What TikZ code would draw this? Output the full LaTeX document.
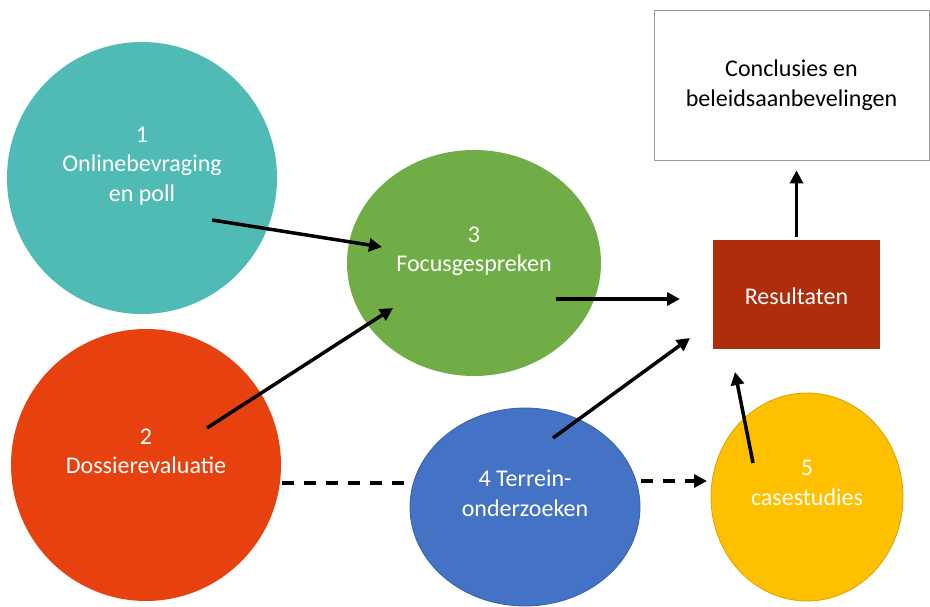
\documentclass[tikz,border=0pt]{standalone}
\usepackage{fontspec}
\setmainfont{Carlito}
\usepackage{xcolor}
\usetikzlibrary{arrows.meta}
\usetikzlibrary{shapes.geometric}
\definecolor{qteal}{RGB}{80,187,180}
\definecolor{qorange}{RGB}{232,65,16}
\definecolor{qgreen}{RGB}{112,173,71}
\definecolor{qblue}{RGB}{68,114,196}
\definecolor{qyellow}{RGB}{255,192,0}
\definecolor{qrust}{RGB}{174,46,12}

\begin{document}
\begin{tikzpicture}[x=1pt,y=-1pt,
  bubble/.style={ellipse, inner sep=0pt, text=white, align=center, text depth=28pt, font=\fontsize{24}{29.5}\selectfont},
  flow/.style={-{Triangle[length=13pt,width=13pt]}, line width=3.5pt},
  dflow/.style={line width=3.5pt, dash pattern=on 12pt off 10pt}]

\useasboundingbox (0,0) rectangle (930,607);

%bubbles:
\node[bubble, fill=qteal, minimum width=270pt, minimum height=272pt] (onl) at (142,178) {1\\Onlinebevraging\\en poll};
\node[bubble, fill=qorange, minimum width=270pt, minimum height=272pt] (dos) at (146,465) {2\\Dossierevaluatie};
\node[bubble, fill=qgreen, minimum width=254pt, minimum height=226pt] (foc) at (474,263) {3\\Focusgespreken};
\node[bubble, fill=qblue, draw=qblue!85!black, line width=0.8pt, minimum width=230pt, minimum height=198pt] (ter) at (525,507) {4 Terrein-\\onderzoeken};
\node[bubble, fill=qyellow, draw=qyellow!85!black, line width=0.8pt, minimum width=192pt, minimum height=208pt] (cas) at (807,497) {5\\casestudies};

%boxes:
\node[fill=qrust, text=white, minimum width=167pt, minimum height=109pt, text height=20pt, font=\fontsize{24}{29.5}\selectfont] (res) at (796.5,294.5) {Resultaten};
\node[draw=black!40, line width=0.8pt, align=center, minimum width=275pt, minimum height=150pt, font=\fontsize{24}{29.5}\selectfont] (concl) at (791.5,85) {Conclusies en\\beleidsaanbevelingen};

%arrow ends
\coordinate (a13s) at (212,220);
\coordinate (a13e) at (382,247);
\coordinate (a23s) at (207,428);
\coordinate (a23e) at (393,308);
\coordinate (a3rs) at (556,299);
\coordinate (a3re) at (680,299);
\coordinate (a4rs) at (553,438);
\coordinate (a4re) at (690,338);
\coordinate (a5rs) at (753,463);
\coordinate (a5re) at (735,372);
\coordinate (d24s) at (282,483);
\coordinate (d24e) at (410,483);
\coordinate (d45s) at (641,481);
\coordinate (d45e) at (707,481);

%arrows:
\draw[flow] (a13s) -- (a13e);
\draw[flow] (a23s) -- (a23e);
\draw[flow] (a3rs) -- (a3re);
\draw[flow] (a4rs) -- (a4re);
\draw[flow] (a5rs) -- (a5re);
\draw[flow, shorten <=3pt, shorten >=10pt] (res.north) -- (res.north |- concl.south);
\draw[dflow] (d24s) -- (d24e);
\draw[dflow, -{Triangle[length=13pt,width=13pt]}] (d45s) -- (d45e);

\end{tikzpicture}
\end{document}
